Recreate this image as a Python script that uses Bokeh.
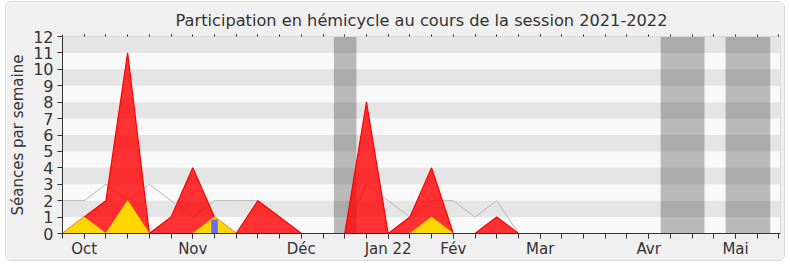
from bokeh.plotting import figure
from bokeh.models import Range1d, FixedTicker, LinearAxis
from bokeh.embed import file_html
from bokeh.resources import INLINE

# week index (x) and weekly values
weeks = list(range(34))
presences = [0, 1, 2, 11, 0, 1, 4, 1, 0, 2, 1, 0, 0, 0, 8, 0, 1, 4, 0, 0, 1, 0,
             0, 0, 0, 0, 0, 0, 0, 0, 0, 0, 0, 0]
interventions = [0, 1, 0, 2, 0, 0, 0, 1, 0, 0, 0, 0, 0, 0, 0, 0, 0, 1, 0, 0, 0, 0,
                 0, 0, 0, 0, 0, 0, 0, 0, 0, 0, 0, 0]
mediane = [2, 2, 3, 2, 3, 2, 1, 2, 2, 2, 1, 0, 0, 0, 3, 2, 1, 2, 2, 1, 2, 0,
           0, 0, 0, 0, 0, 0, 0, 0, 0, 0, 0, 0]
questions_week = [7]
questions = [0.85]

vacances_debut = [12.5, 27.55, 30.54]
vacances_fin = [13.54, 29.57, 32.6]

mois_pos = [1, 6, 11, 15, 18, 22, 27, 31]
mois_labels = ["Oct", "Nov", "Déc", "Jan 22", "Fév", "Mar", "Avr", "Mai"]
y_ticks = list(range(13))

FONT = "DejaVu Sans"

p = figure(width=780, height=260, output_backend="svg", toolbar_location=None,
           x_range=Range1d(0, 33.07), y_range=Range1d(0, 12),
           title="Participation en hémicycle au cours de la session 2021-2022",
           min_border_left=10, min_border_right=6, min_border_top=34, min_border_bottom=29)
p.styles = {"margin-left": "5px", "margin-top": "1px", "border": "1px solid #d8d8d8",
            "border-radius": "6px", "overflow": "hidden"}

p.title.text_font = FONT
p.title.text_font_size = "16.2px"
p.title.text_font_style = "normal"
p.title.text_color = "#333333"
p.title.align = "center"
p.title.offset = 5

p.background_fill_color = "#f9f9f9"
p.border_fill_color = "#f0f0f0"
p.outline_line_color = "#d8d8d8"

p.xgrid.visible = False
p.ygrid.ticker = FixedTicker(ticks=y_ticks)
p.ygrid.grid_line_color = None
p.ygrid.band_fill_color = "#e5e5e5"
p.ygrid.band_fill_alpha = 1

# vacation bands
p.quad(left=vacances_debut, right=vacances_fin, bottom=y_ticks[0], top=y_ticks[-1],
       fill_color="black", fill_alpha=0.25, line_color=None)

# median line
p.line(weeks, mediane, line_color="#b8b8b8", line_width=1)

# presences
p.varea(x=weeks, y1=0, y2=presences, fill_color="red", fill_alpha=0.8)
p.line(weeks, presences, line_color="red", line_width=1.2)

# interventions
p.varea(x=weeks, y1=0, y2=interventions, fill_color="#ffd700", fill_alpha=1)
p.line(weeks, interventions, line_color="#ffcc00", line_width=1)

# questions
p.vbar(x=questions_week, top=questions, width=0.3, fill_color="#6a6aff", line_color=None)

# axes
xa = p.xaxis[0]
xa.ticker = FixedTicker(ticks=mois_pos, minor_ticks=weeks)
xa.major_label_overrides = {k: v for k, v in zip(mois_pos, mois_labels)}
xa.major_tick_out = 5
xa.major_tick_in = 0
xa.minor_tick_out = 5
xa.minor_tick_in = 0
xa.major_label_text_font = FONT
xa.major_label_text_font_size = "15px"
xa.major_label_text_color = "#333333"
xa.major_label_standoff = 1
xa.axis_line_color = "#333333"
xa.major_tick_line_color = "#333333"
xa.minor_tick_line_color = "#333333"

ya = p.yaxis[0]
ya.ticker = FixedTicker(ticks=y_ticks)
ya.major_tick_out = 5
ya.major_tick_in = 0
ya.minor_tick_line_color = None
ya.major_label_text_font = FONT
ya.major_label_text_font_size = "16px"
ya.major_label_text_color = "#333333"
ya.major_label_standoff = 4
ya.axis_line_color = "#333333"
ya.major_tick_line_color = "#333333"
ya.axis_label = "Séances par semaine"
ya.axis_label_text_font = FONT
ya.axis_label_text_font_size = "15px"
ya.axis_label_text_font_style = "normal"
ya.axis_label_text_color = "#333333"
ya.axis_label_standoff = 3

top = LinearAxis(ticker=FixedTicker(ticks=[], minor_ticks=weeks))
top.minor_tick_out = 2
top.minor_tick_in = 0
top.minor_tick_line_color = "#222222"
top.major_tick_line_color = None
top.axis_line_color = "#d8d8d8"
top.major_label_text_font_size = "0px"
top.major_label_standoff = 0
p.add_layout(top, "above")

open("out.html", "w").write(file_html(p, INLINE))
